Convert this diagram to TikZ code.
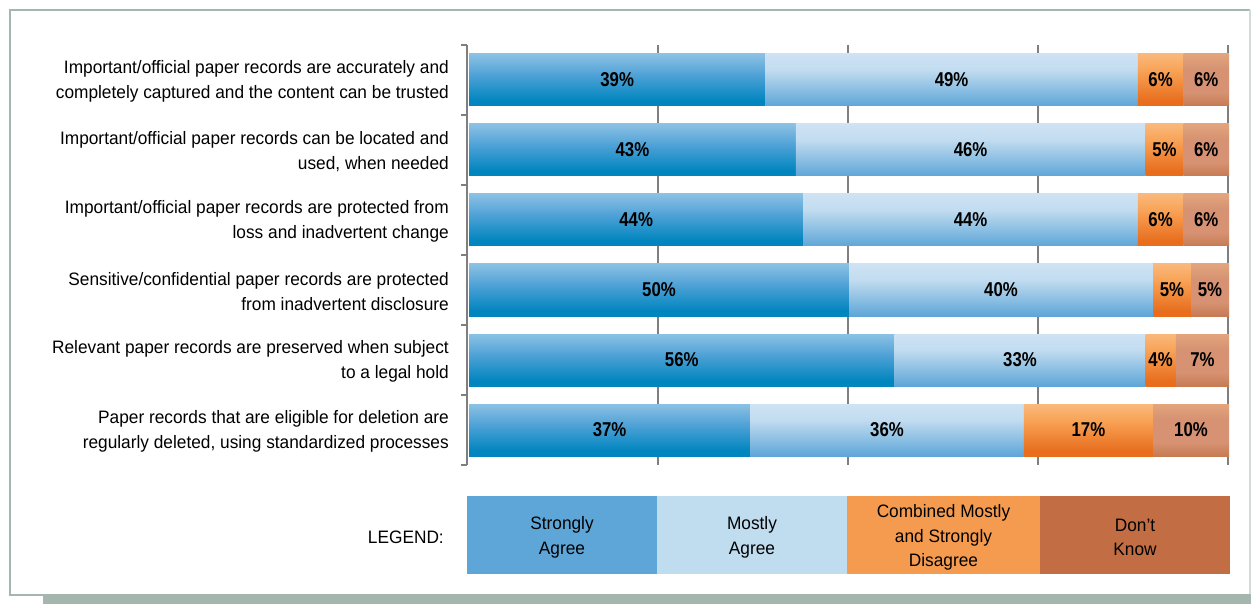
\documentclass[tikz,border=0pt]{standalone}
\usepackage{fontspec}
\setmainfont{Liberation Sans}[FakeStretch=0.96]
\newfontfamily\pctfont{Liberation Sans}[FakeStretch=0.84]
\usetikzlibrary{positioning}
\definecolor{frame}{HTML}{A5B6AE}
\definecolor{gridc}{HTML}{7F7F7F}
\definecolor{saTop}{HTML}{D6E8F6}
\definecolor{saMid}{HTML}{4FA2D6}
\definecolor{saBot}{HTML}{0085BF}
\definecolor{maTop}{HTML}{E2EEF9}
\definecolor{maMid}{HTML}{C2DCF0}
\definecolor{maBot}{HTML}{5EA6D8}
\definecolor{orTop}{HTML}{FDDAB8}
\definecolor{orMid}{HTML}{F8A458}
\definecolor{orBot}{HTML}{E86E1E}
\definecolor{brTop}{HTML}{F7C390}
\definecolor{brMid}{HTML}{D69272}
\definecolor{brBot}{HTML}{A84E18}
\definecolor{lgSA}{HTML}{5FA6D8}
\definecolor{lgMA}{HTML}{C0DCEF}
\definecolor{lgOR}{HTML}{F59B50}
\definecolor{lgBR}{HTML}{C26D43}
\pgfdeclareverticalshading{sash}{100bp}{color(0bp)=(saBot); color(30bp)=(saBot); color(55bp)=(saMid); color(100bp)=(saTop)}
\pgfdeclareverticalshading{mash}{100bp}{color(0bp)=(maBot); color(25bp)=(maBot); color(60bp)=(maMid); color(100bp)=(maTop)}
\pgfdeclareverticalshading{orsh}{100bp}{color(0bp)=(orBot); color(30bp)=(orBot); color(60bp)=(orMid); color(100bp)=(orTop)}
\pgfdeclareverticalshading{brsh}{100bp}{color(0bp)=(brBot); color(38bp)=(brMid); color(60bp)=(brMid); color(100bp)=(brTop)}
\tikzset{
  seg/.style={inner sep=0pt, minimum height=52pt, font=\pctfont\fontsize{20}{22}\selectfont\bfseries, text=black},
  rowlabel/.style={anchor=east, align=right, inner sep=0pt, font=\fontsize{18}{24.5}\selectfont},
  legbox/.style={minimum height=78pt, align=center, font=\fontsize{18}{24.5}\selectfont},
  legtext/.style={inner sep=0pt, align=center, font=\fontsize{18}{24.5}\selectfont},
  gridline/.style={draw=gridc, line width=1.4pt},
}
\begin{document}
\begin{tikzpicture}[x=1pt,y=-1pt]
\useasboundingbox (0,0) rectangle (1251,604);
% frame
\fill[white] (0,0) rectangle (1251,604);
\draw[frame, line width=2.5pt] (10,595) -- (10,10) -- (1250,10);
\draw[frame!50, line width=1.2pt] (1250,10) -- (1250,595);
\draw[frame, line width=2pt] (9,594.5) -- (1251,594.5);
\fill[frame] (43,596) rectangle (1251,604);
% grid lines
\foreach \gx in {658,848,1038,1228}
  \draw[gridline] (\gx,45) -- (\gx,465);
% axis
\coordinate (axtop) at (467,45);
\coordinate (axbot) at (467,465);
\draw[gridline] (axtop) -- (axbot);
\foreach \k in {0,...,6}
  \draw[gridline] (461,45+70*\k) -- (467,45+70*\k);
% bars
\foreach \r/\sA/\sB/\sC/\sD in {1/39/49/6/6, 2/43/46/5/6, 3/44/44/6/6, 4/50/40/5/5, 5/56/33/4/7, 6/37/36/17/10} {
  \pgfmathsetmacro\yc{80+(\r-1)*70}
  \pgfmathsetmacro\wA{7.6*\sA}
  \pgfmathsetmacro\wB{7.6*\sB}
  \pgfmathsetmacro\wC{7.6*\sC}
  \pgfmathsetmacro\wD{7.6*\sD}
  \pgfmathsetmacro\xA{469+\wA/2}
  \pgfmathsetmacro\xB{469+\wA+\wB/2}
  \pgfmathsetmacro\xC{469+\wA+\wB+\wC/2}
  \pgfmathsetmacro\xD{469+\wA+\wB+\wC+\wD/2}
  \node[seg, shading=sash, minimum width=\wA pt] (b\r a) at (\xA,\yc) {\sA\%};
  \node[seg, shading=mash, minimum width=\wB pt] (b\r b) at (\xB,\yc) {\sB\%};
  \node[seg, shading=orsh, minimum width=\wC pt] (b\r c) at (\xC,\yc) {\sC\%};
  \node[seg, shading=brsh, minimum width=\wD pt] (b\r d) at (\xD,\yc) {\sD\%};
}
% row labels
\node[rowlabel] (l1) at (449,81.5) {Important/official paper records are accurately and\\completely captured and the content can be trusted};
\node[rowlabel] (l2) at (449,151.5) {Important/official paper records can be located and\\used, when needed };
\node[rowlabel] (l3) at (449,221.5) {Important/official paper records are protected from\\loss and inadvertent change};
\node[rowlabel] (l4) at (449,291.5) {Sensitive/confidential paper records are protected\\from inadvertent disclosure};
\node[rowlabel] (l5) at (449,361.5) {Relevant paper records are preserved when subject\\to a legal hold };
\node[rowlabel] (l6) at (449,431.5) {Paper records that are eligible for deletion are\\regularly deleted, using standardized processes};
% legend
\node[anchor=east, inner sep=0pt, font=\fontsize{18}{20}\selectfont] (legtitle) at (444,537) {LEGEND:};
\node[legbox, fill=lgSA, minimum width=190pt] (lg1) at (562,535) {};
\node[legbox, fill=lgMA, minimum width=190pt] (lg2) at (752,535) {};
\node[legbox, fill=lgOR, minimum width=193pt] (lg3) at (943.5,535) {};
\node[legbox, fill=lgBR, minimum width=190pt] (lg4) at (1135,535) {};
\node[legtext] (lt1) at (562,537.5) {Strongly\\Agree};
\node[legtext] (lt2) at (752,537.5) {Mostly\\Agree};
\node[legtext] (lt3) at (943.5,537.5) {Combined Mostly\\and Strongly\\Disagree};
\node[legtext] (lt4) at (1135,537.5) {Don\symbol{39}t\\Know};
\end{tikzpicture}
\end{document}
